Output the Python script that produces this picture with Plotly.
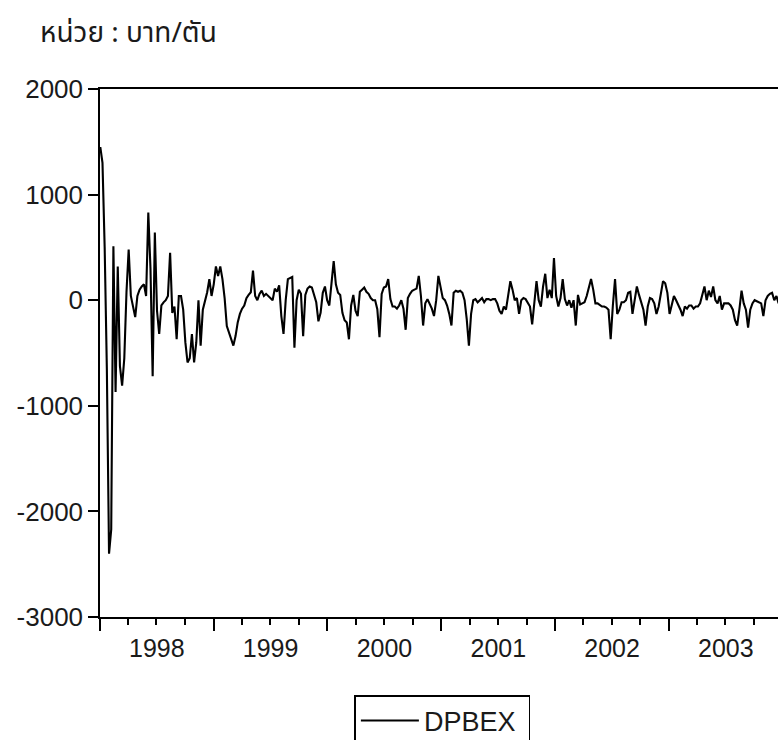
import pandas as pd
import plotly.graph_objects as go

# Weekly DPBEX values (baht/ton), Jan 1998 - Dec 2003
dpbex = [
    1450, 1300, 500, -650, -2400, -2170, 510, -870, 320, -625,
    -810, -550, 75, 480, 40, -50, -160, 40, 100, 130,
    150, 40, 830, 300, -720, 640, -100, -320, -50, -20,
    0, 40, 450, -120, -60, -370, 40, 40, -90, -400,
    -590, -550, -320, -590, -400, 0, -430, -90, -20, 75,
    200, 40, 150, 320, 230, 320, 200, 20, -245, -310,
    -380, -430, -340, -210, -130, -80, -50, 20, 50, 75,
    280, 40, 0, 60, 90, 40, 60, 40, 20, 0,
    110, 80, 140, -150, -320, 0, 200, 210, 220, -450,
    0, 100, 60, -340, 50, 110, 130, 120, 60, -20,
    -200, -120, 70, 130, 0, -50, 160, 370, 150, 70,
    50, -120, -190, -210, -370, -50, 50, -100, -150, 80,
    100, 120, 80, 60, 20, 0, 0, -85, -350, 60,
    120, 130, 200, 10, -60, -60, -80, -50, 0, -80,
    -280, 20, 60, 90, 100, 110, 230, 40, -240, -30,
    10, -30, -80, -150, 0, 230, 130, 20, 0, -50,
    -130, -240, 70, 90, 80, 90, 70, 0, -180, -430,
    -130, 0, 10, -20, 0, 20, -20, 10, 10, 0,
    10, 10, -30, -100, -130, -60, -90, 60, 180, 100,
    0, 20, -130, 0, 20, 10, -30, -60, -230, 0,
    180, 0, -60, 130, 250, 20, 100, 20, 400, 40,
    -60, 20, 200, 10, -50, 0, -70, 0, -240, 50,
    -40, -30, -20, 40, 130, 200, 100, -30, -30, -50,
    -60, -60, -70, -90, -370, -50, 200, -130, -90, -20,
    -20, 0, 70, 80, -130, 0, 130, 50, -30, -90,
    -240, -60, 20, 10, -30, -130, -60, 70, 180, 160,
    70, -130, -30, 40, 0, -40, -90, -150, -60, -80,
    -50, -50, -80, -60, -60, -30, 60, 130, 0, 90,
    30, 130, 0, -30, 40, -90, -30, -30, -30, -50,
    -90, -190, -240, -90, 90, -30, -90, -260, -90, -30,
    0, -10, -20, -30, -150, 0, 40, 60, 70, 0, 40, -30,
]
dates = pd.date_range("1998-01-02", periods=len(dpbex), freq="7D")

y_ticks = [-3000, -2000, -1000, 0, 1000, 2000]
y_tick_labels = ["-3000", "-2000", "-1000", "0", "1000", "2000"]
series_name = "DPBEX"
unit_text = "หน่วย : บาท/ตัน"

arial = "Liberation Sans, Arial, sans-serif"
ink = "#1a1a1a"

fig = go.Figure()
fig.add_trace(go.Scatter(
    x=dates, y=dpbex, mode="lines", name=series_name + "\u00a0",
    line=dict(color="black", width=2.1),
))

fig.update_layout(
    width=778, height=740,
    margin=dict(l=100, r=0, t=89, b=123, autoexpand=False),
    paper_bgcolor="white", plot_bgcolor="white",
    showlegend=True,
    legend=dict(
        x=0.505, xanchor="center", y=(617 - 695) / 528, yanchor="top",
        bordercolor="black", borderwidth=1.5, bgcolor="white",
        itemwidth=58,
        font=dict(family=arial, size=27, color=ink),
    ),
    annotations=[dict(
        text=unit_text, xref="paper", yref="paper",
        x=(38 - 100) / 678, y=(617 - 33) / 528,
        xanchor="left", yanchor="middle", showarrow=False,
        font=dict(family="Noto Sans Thai, Loma, Garuda, Tlwg Typo, Noto Sans, sans-serif",
                  size=28, color=ink),
    )],
)

fig.update_xaxes(
    type="date", range=["1998-01-01", "2003-12-17"],
    tickmode="linear", tick0="1998-01-01", dtick="M12",
    ticklabelmode="period", tickformat="%Y",
    ticks="outside", ticklen=12, tickwidth=1.5, tickcolor="black",
    ticklabelstandoff=-4,
    showline=True, linecolor="black", linewidth=1.5, mirror=True,
    showgrid=False, zeroline=False,
    minor=dict(dtick="M3", tick0="1998-01-01", ticks="outside", ticklen=6,
               tickwidth=1.5, tickcolor="black", showgrid=False),
    tickfont=dict(family=arial, size=25, color=ink),
)
fig.update_yaxes(
    range=[-3000, 2000], tickmode="array", tickvals=y_ticks, ticktext=y_tick_labels,
    ticks="outside", ticklen=10, tickwidth=1.5, tickcolor="black",
    showline=True, linecolor="black", linewidth=1.5,
    showgrid=False, zeroline=False,
    tickfont=dict(family=arial, size=26, color=ink),
)

fig.write_html("out.html")
